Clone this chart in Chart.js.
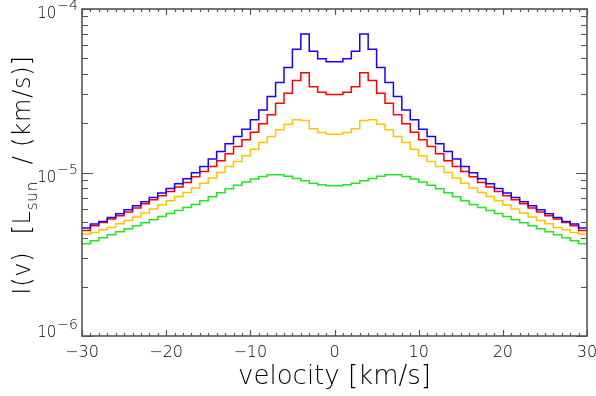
<!DOCTYPE html>
<html>
<head>
<meta charset="utf-8">
<script src="https://cdn.jsdelivr.net/npm/chart.js@4.4.1/dist/chart.umd.min.js"></script>
<style>
  body { margin: 0; background: #fff; }
  #wrap { width: 596px; height: 396px; }
</style>
</head>
<body>
<div id="wrap"><canvas id="lineProfile" width="596" height="396"></canvas></div>
<script>
'use strict'

/* velocity bin edges [km/s] */
const binEdges = [-30, -29, -28, -27, -26, -25, -24, -23, -22, -21, -20, -19, -18, -17, -16, -15,
  -14, -13, -12, -11, -10, -9, -8, -7, -6, -5, -4, -3, -2, -1, 0, 1, 2, 3, 4, 5, 6, 7, 8, 9, 10,
  11, 12, 13, 14, 15, 16, 17, 18, 19, 20, 21, 22, 23, 24, 25, 26, 27, 28, 29, 30];

/* bin values, in units of 1e-6 Lsun/(km/s) */
const unit = 1e-6;
const blueVals = [4.57, 4.84, 5.02, 5.31, 5.59, 5.92, 6.26, 6.62, 7.03, 7.48, 7.98, 8.53, 9.15, 9.96, 10.88,
  12.08, 13.44, 14.97, 16.59, 18.41, 20.99, 24.15, 29.12, 35.46, 43.8, 56.7, 70.3, 55.1, 49.7, 47.6,
  47.6, 49.7, 55.1, 70.3, 56.7, 43.8, 35.46, 29.12, 24.15, 20.99, 18.41, 16.59, 14.97, 13.44, 12.08,
  10.88, 9.96, 9.15, 8.53, 7.98, 7.48, 7.03, 6.62, 6.26, 5.92, 5.59, 5.31, 5.02, 4.84, 4.57];
const redVals = [4.42, 4.72, 4.95, 5.19, 5.44, 5.73, 6.06, 6.44, 6.81, 7.20, 7.65, 8.14, 8.69, 9.41, 10.14,
  10.88, 11.79, 13.0, 14.41, 15.84, 17.65, 19.84, 22.52, 26.54, 30.55, 36.48, 40.8, 33.5, 31.0, 29.96,
  29.96, 31.0, 33.5, 40.8, 36.48, 30.55, 26.54, 22.52, 19.84, 17.65, 15.84, 14.41, 13.0, 11.79, 10.88,
  10.14, 9.41, 8.69, 8.14, 7.65, 7.20, 6.81, 6.44, 6.06, 5.73, 5.44, 5.19, 4.95, 4.72, 4.42];
const orangeVals = [4.20, 4.30, 4.47, 4.61, 4.86, 5.09, 5.34, 5.65, 5.98, 6.32, 6.71, 7.13, 7.54, 8.03, 8.61,
  9.24, 10.0, 10.88, 11.67, 12.65, 13.89, 15.25, 16.59, 18.23, 19.75, 20.99, 20.78, 18.49, 17.55, 17.16,
  17.16, 17.55, 18.49, 20.78, 20.99, 19.75, 18.23, 16.59, 15.25, 13.89, 12.65, 11.67, 10.88, 10.0, 9.24,
  8.61, 8.03, 7.54, 7.13, 6.71, 6.32, 5.98, 5.65, 5.34, 5.09, 4.86, 4.61, 4.47, 4.30, 4.20];
const greenVals = [3.67, 3.83, 3.99, 4.16, 4.34, 4.53, 4.72, 4.93, 5.14, 5.38, 5.61, 5.85, 6.11, 6.37, 6.71,
  7.10, 7.52, 7.95, 8.35, 8.74, 9.12, 9.45, 9.68, 9.68, 9.48, 9.19, 8.90, 8.61, 8.41, 8.29,
  8.29, 8.41, 8.61, 8.90, 9.19, 9.48, 9.68, 9.68, 9.45, 9.12, 8.74, 8.35, 7.95, 7.52, 7.10,
  6.71, 6.37, 6.11, 5.85, 5.61, 5.38, 5.14, 4.93, 4.72, 4.53, 4.34, 4.16, 3.99, 3.83, 3.67];

/* axes */
const xMin = -30, xMax = 30;
const xLabelTicks = [-30, -20, -10, 0, 10, 20, 30];
const yDecades = [-6, -5, -4];
const yMantissas = [1, 2, 3, 4, 5, 6, 7, 8, 9];

const axisColor = '#555';
const fontFamily = '"DejaVu Sans", sans-serif';
const fontWeight = '200';

// histogram -> step points (value holds from left edge to the next edge)
function toSteps(vals){
  const pts = vals.map((v, i) => ({x: binEdges[i], y: v * unit}));
  pts.push({x: binEdges[binEdges.length - 1], y: vals[vals.length - 1] * unit});
  return pts;
}

function minusText(v){
  return v < 0 ? '\u2212' + Math.abs(v) : String(v);
}

function isDecade(v){
  const l = Math.log10(v);
  return Math.abs(l - Math.round(l)) < 1e-6;
}

function fontStr(size){
  return fontWeight + ' ' + size + 'px ' + fontFamily;
}

/* IDL-like box with inward ticks, y labels with exponents, y title */
const idlAxes = {
  id: 'idlAxes',
  afterDraw(chart){
    const ctx = chart.ctx;
    const a = chart.chartArea;
    const xs = chart.scales.x, ys = chart.scales.y;
    ctx.save();
    ctx.strokeStyle = axisColor;
    ctx.lineWidth = 1.6;
    ctx.strokeRect(a.left, a.top, a.right - a.left, a.bottom - a.top);

    ctx.lineWidth = 1.2;
    ctx.beginPath();
    xs.ticks.forEach(t => {
      const px = Math.round(xs.getPixelForValue(t.value)) + 0.5;
      const len = xLabelTicks.includes(t.value) ? 6 : 3;
      ctx.moveTo(px, a.bottom); ctx.lineTo(px, a.bottom - len);
      ctx.moveTo(px, a.top); ctx.lineTo(px, a.top + len);
    });
    ys.ticks.forEach(t => {
      const py = Math.round(ys.getPixelForValue(t.value)) + 0.5;
      const len = isDecade(t.value) ? 11 : 6;
      ctx.moveTo(a.left, py); ctx.lineTo(a.left + len, py);
      ctx.moveTo(a.right, py); ctx.lineTo(a.right - len, py);
    });
    ctx.stroke();

    // y tick labels 10^n
    ctx.fillStyle = '#000';
    ctx.textBaseline = 'alphabetic';
    ctx.textAlign = 'left';
    yDecades.forEach(e => {
      const py = ys.getPixelForValue(Math.pow(10, e));
      const base = Math.min(py + 9, a.bottom + 1);
      ctx.font = fontStr(15);
      const w1 = ctx.measureText('10').width;
      ctx.font = fontStr(14);
      const sup = minusText(e);
      const w2 = ctx.measureText(sup).width;
      const right = a.left - 4;
      ctx.font = fontStr(15);
      ctx.fillText('10', right - w2 - w1 - 1, base);
      ctx.font = fontStr(14);
      ctx.fillText(sup, right - w2, base - 8);
    });

    // y title: I(v)  [L_sun / (km/s)]
    const parts = [
      {t: 'I(v)  [L', size: 24, dy: 0},
      {t: 'sun', size: 15, dy: 7},
      {t: '  / (km/s)]', size: 24, dy: 0}
    ];
    ctx.letterSpacing = '0.8px';
    let total = 0;
    parts.forEach(p => { ctx.font = fontStr(p.size); p.w = ctx.measureText(p.t).width; total += p.w; });
    ctx.translate(30, 175);
    ctx.rotate(-Math.PI / 2);
    let x0 = -total / 2;
    parts.forEach(p => {
      ctx.font = fontStr(p.size);
      ctx.fillText(p.t, x0, p.dy);
      x0 += p.w;
    });
    ctx.restore();
  }
};

const lineStyle = {
  pointRadius: 0,
  borderWidth: 1.5,
  stepped: 'before',
  fill: false
};

const config = {
  type: 'line',
  data: {
    datasets: [
      Object.assign({label: 'blue', data: toSteps(blueVals), borderColor: '#1a00ff'}, lineStyle),
      Object.assign({label: 'red', data: toSteps(redVals), borderColor: '#ff0000'}, lineStyle),
      Object.assign({label: 'orange', data: toSteps(orangeVals), borderColor: '#ffc400'}, lineStyle),
      Object.assign({label: 'green', data: toSteps(greenVals), borderColor: '#22e622'}, lineStyle)
    ]
  },
  options: {
    responsive: false,
    animation: false,
    devicePixelRatio: 1,
    layout: { padding: { top: 9, right: 9, left: 0, bottom: 0 } },
    plugins: { legend: { display: false }, tooltip: { enabled: false } },
    scales: {
      x: {
        type: 'linear',
        min: xMin,
        max: xMax,
        grid: { display: false, drawTicks: false },
        border: { display: false },
        ticks: {
          stepSize: 1,
          autoSkip: false,
          maxRotation: 0,
          padding: 7,
          color: '#000',
          font: { family: fontFamily, size: 16, weight: fontWeight },
          callback: v => xLabelTicks.includes(v) ? minusText(v) : ''
        },
        title: {
          display: true,
          text: 'velocity [km/s]',
          color: '#000',
          font: { family: fontFamily, size: 26, weight: fontWeight },
          padding: { top: 0, bottom: 3 }
        },
        afterFit: s => { s.height = 60; s.paddingLeft = 0; s.paddingRight = 0; }
      },
      y: {
        type: 'logarithmic',
        min: 1e-6,
        max: 1e-4,
        grid: { display: false, drawTicks: false },
        border: { display: false },
        ticks: { display: false },
        afterBuildTicks: s => {
          const t = [];
          yDecades.forEach(e => {
            yMantissas.forEach(m => {
              const v = m * Math.pow(10, e);
              if (v <= 1e-4 * 1.0001) t.push({value: v});
            });
          });
          s.ticks = t;
        },
        afterFit: s => { s.width = 82; s.paddingTop = 0; s.paddingBottom = 0; }
      }
    }
  },
  plugins: [idlAxes]
};

const ctxLp = document.getElementById('lineProfile').getContext('2d');
const chart = new Chart(ctxLp, config);
</script>
</body>
</html>
